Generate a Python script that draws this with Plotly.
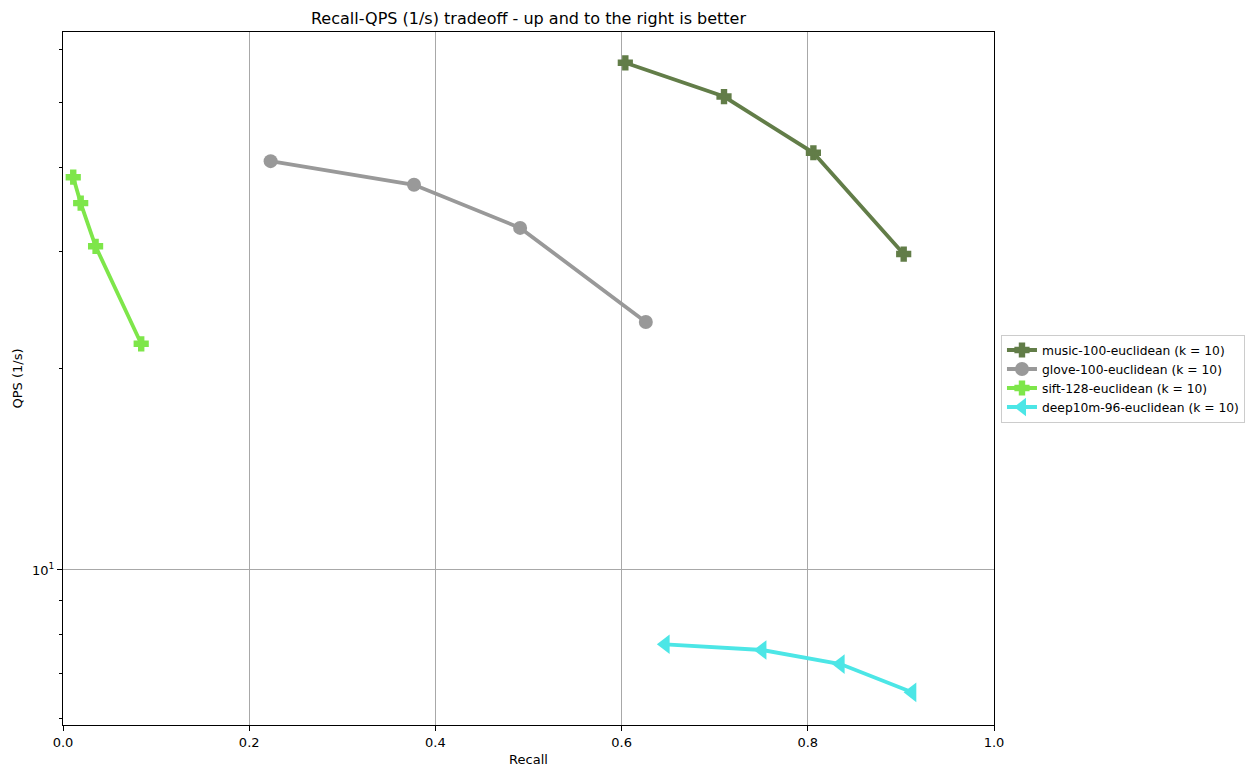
import plotly.graph_objects as go

music_x = [0.604, 0.710, 0.806, 0.903]
music_y = [57.4, 51.1, 42.1, 29.7]
glove_x = [0.223, 0.377, 0.491, 0.626]
glove_y = [40.9, 37.7, 32.5, 23.5]
sift_x = [0.011, 0.019, 0.035, 0.084]
sift_y = [38.7, 35.4, 30.5, 21.8]
deep_x = [0.647, 0.751, 0.835, 0.912]
deep_y = [7.74, 7.59, 7.23, 6.56]

x_ticks = [0.0, 0.2, 0.4, 0.6, 0.8, 1.0]
x_ticklabels = ["0.0", "0.2", "0.4", "0.6", "0.8", "1.0"]
y_minor = [6, 7, 8, 9, 20, 30, 40, 50, 60]

series = [
    ("music-100-euclidean (k = 10)", music_x, music_y, "#627d48", "cross", 11),
    ("glove-100-euclidean (k = 10)", glove_x, glove_y, "#999999", "circle", 14),
    ("sift-128-euclidean (k = 10)", sift_x, sift_y, "#7ee64a", "cross", 11),
    ("deep10m-96-euclidean (k = 10)", deep_x, deep_y, "#4ce6e6", "triangle-left", 17),
]

fig = go.Figure()
for name, xs, ys, col, sym, sz in series:
    mline = dict(width=2, color=col) if sym == "cross" else dict(width=0)
    fig.add_trace(go.Scatter(
        x=xs, y=ys, name=name, mode="lines+markers",
        line=dict(color=col, width=3.8),
        marker=dict(color=col, symbol=sym, size=sz, line=mline),
    ))

W, H = 1248, 770
L, T, PW, PH = 55, 24, 931, 693
font = "DejaVu Sans"
fig.update_layout(
    width=W, height=H,
    margin=dict(l=L, r=W - L - PW, t=T, b=H - T - PH, autoexpand=False),
    paper_bgcolor="white", plot_bgcolor="white",
    font=dict(family=font, size=13, color="black"),
    title=dict(text="Recall-QPS (1/s) tradeoff - up and to the right is better",
               x=(L + PW / 2) / W, xanchor="center", y=1 - 10 / H, yanchor="middle",
               font=dict(size=16, family=font)),
    showlegend=True,
    legend=dict(x=1.0075, xanchor="left", y=0.5, yanchor="middle",
                bordercolor="#cccccc", borderwidth=1, font=dict(size=12.3, family=font),
                tracegroupgap=0, itemwidth=30),
)
fig.update_xaxes(
    range=[0, 1], tickvals=x_ticks, ticktext=x_ticklabels, automargin=False,
    showgrid=True, gridcolor="#a8a8a8", gridwidth=1,
    showline=True, linecolor="black", linewidth=1, mirror=True,
    ticks="outside", ticklen=5, tickcolor="black", zeroline=False,
    title=dict(text="Recall", font=dict(size=13), standoff=6),
    tickfont=dict(size=13),
)
fig.update_yaxes(
    type="log", range=[0.768, 1.805], automargin=False,
    tickvals=[10], ticktext=["10<sup>1</sup>"],
    showgrid=True, gridcolor="#a8a8a8", gridwidth=1,
    showline=True, linecolor="black", linewidth=1, mirror=True,
    ticks="outside", ticklen=5, tickcolor="black", zeroline=False,
    minor=dict(tickvals=y_minor, ticks="outside", ticklen=3, tickcolor="black", showgrid=False),
    title=dict(text="QPS (1/s)", font=dict(size=13), standoff=6),
    tickfont=dict(size=13),
)
fig.write_html("out.html")
